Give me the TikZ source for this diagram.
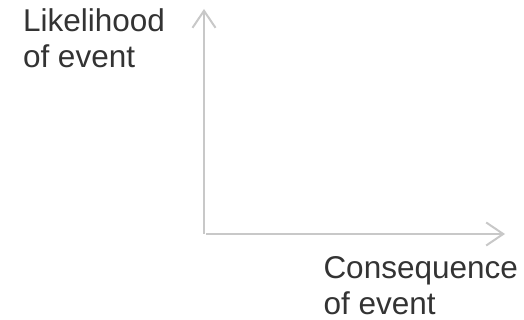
\documentclass[tikz,border=0pt]{standalone}
\usepackage{fontspec}
\setmainfont{Liberation Sans}
\usetikzlibrary{arrows.meta}
\definecolor{axisgray}{RGB}{200,200,200}
\definecolor{labelgray}{RGB}{51,51,51}
\begin{document}
\begin{tikzpicture}[x=1pt,y=1pt,
  axis/.style={draw=axisgray,line width=2pt,-{Straight Barb[length=17pt,width=23pt,line width=2pt]}},
  label/.style={inner sep=0pt,outer sep=0pt,align=left,text=labelgray,font=\fontsize{31.5}{36}\selectfont}]
\useasboundingbox (0,0) rectangle (524,320);
\coordinate (origin) at (204,86);
\coordinate (ytip) at (204,311);
\coordinate (xtip) at (505,86);
\draw[axis] (origin) -- (ytip);
\draw[axis] ([xshift=2pt]origin) -- (xtip);
\node[label,anchor=base west] (ylabel) at (23,252) {Likelihood\\of event};
\node[label,anchor=base west] (xlabel) at (323.5,5) {Consequence\\of event};
\end{tikzpicture}
\end{document}
